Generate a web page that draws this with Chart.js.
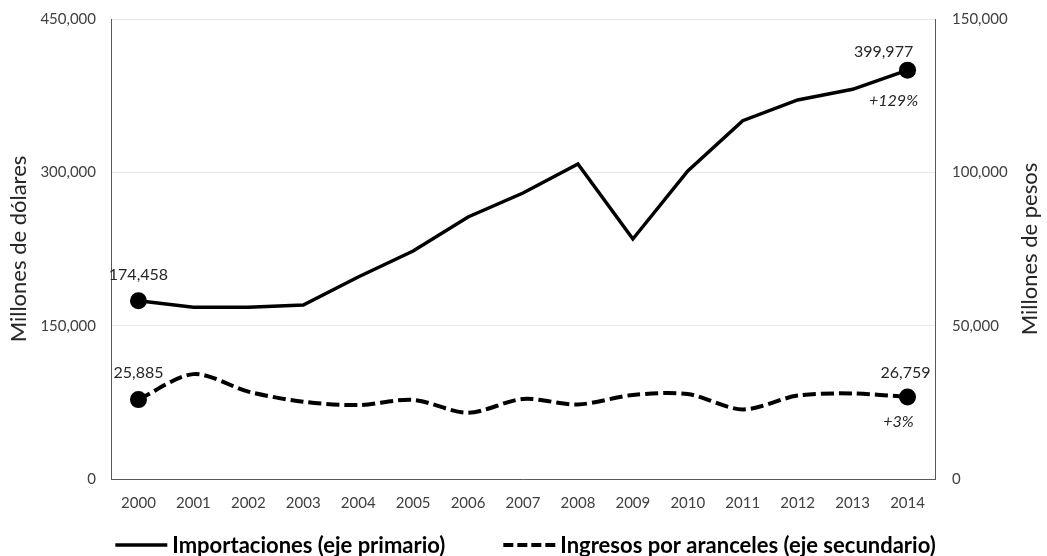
<!DOCTYPE html>
<html>
<head>
<meta charset="utf-8">
<script src="https://cdn.jsdelivr.net/npm/chart.js@4.4.1/dist/chart.umd.min.js"></script>
<style>
  html, body { margin: 0; padding: 0; background: #fff; }
  #wrap { width: 1047px; height: 556px; }
</style>
</head>
<body>
<div id="wrap"><canvas id="chart" width="1047" height="556"></canvas></div>
<script>
const years = ['2000', '2001', '2002', '2003', '2004', '2005', '2006', '2007',
               '2008', '2009', '2010', '2011', '2012', '2013', '2014'];
const importaciones = [174458, 168000, 168000, 170200, 197600, 223000, 256300, 279800,
                       308200, 234800, 301300, 350500, 370800, 381200, 399977];
const aranceles = [25885, 34200, 28500, 25200, 24100, 25800, 21600, 26100,
                   24300, 27400, 27700, 22700, 27200, 27900, 26759];
const seriesNames = ['Importaciones (eje primario)', 'Ingresos por aranceles (eje secundario)'];
const axisTitles = ['Millones de dólares', 'Millones de pesos'];
const leftMax = 450000;
const rightMax = 150000;

const FONT = "Lato, 'Open Sans', sans-serif";
Chart.defaults.font.family = FONT;
Chart.defaults.color = '#404040';

const fmt = v => Number(v).toLocaleString('en-US');

function endRadius(ctx) {
    const last = ctx.dataset.data.length - 1;
    return (ctx.dataIndex === 0 || ctx.dataIndex === last) ? 8.5 : 0;
}

// y axes: fixed width, and don't let tick padding push the plot down
function fixAxis(width) {
    return s => {
        s.width = width;
        s.paddingTop = 0;
        s.paddingBottom = 0;
    };
}

// start / end value labels and % change
const endLabels = {
    id: 'endLabels',
    afterDatasetsDraw(chart) {
        const ctx = chart.ctx;
        // offsets: [firstDy, lastDx, lastDy, changeDx, changeDy]
        const offs = [[-26, -24, -18, -14, 31], [-27, -2, -24, -9, 25]];
        chart.data.datasets.forEach((ds, i) => {
            const pts = chart.getDatasetMeta(i).data;
            const first = pts[0], last = pts[pts.length - 1];
            const v0 = ds.data[0], v1 = ds.data[ds.data.length - 1];
            const o = offs[i];
            ctx.save();
            ctx.fillStyle = '#262626';
            ctx.textAlign = 'center';
            ctx.textBaseline = 'middle';
            ctx.font = '16px ' + FONT;
            ctx.fillText(fmt(v0), first.x, first.y + o[0]);
            ctx.fillText(fmt(v1), last.x + o[1], last.y + o[2]);
            ctx.font = 'italic 16px ' + FONT;
            const pct = Math.round((v1 / v0 - 1) * 100);
            ctx.fillText('+' + pct + '%', last.x + o[3], last.y + o[4]);
            ctx.restore();
        });
    }
};

// rotated axis titles (both read bottom to top) and bottom legend
const extras = {
    id: 'extras',
    afterDraw(chart) {
        const ctx = chart.ctx;
        const area = chart.chartArea;
        const midY = (area.top + area.bottom) / 2;
        ctx.save();
        ctx.fillStyle = '#262626';
        ctx.font = '22px ' + FONT;
        ctx.textAlign = 'center';
        ctx.textBaseline = 'middle';
        [[19, axisTitles[0]], [chart.width - 17, axisTitles[1]]].forEach(([x, t]) => {
            ctx.save();
            ctx.translate(x, midY);
            ctx.rotate(-Math.PI / 2);
            ctx.fillText(t, 0, 0);
            ctx.restore();
        });

        // legend
        ctx.font = 'bold 22px ' + FONT;
        const sample = 52, gap = 5, between = 58;
        const items = chart.data.datasets.map(ds => ({
            ds, w: sample + gap + ctx.measureText(ds.label).width
        }));
        const total = items.reduce((a, it) => a + it.w, 0) + between * (items.length - 1);
        let x = (chart.width - total) / 2 + 2;
        const y = area.bottom + 66;
        ctx.textAlign = 'left';
        ctx.fillStyle = '#000';
        items.forEach(it => {
            ctx.save();
            ctx.strokeStyle = it.ds.borderColor;
            ctx.lineWidth = it.ds.borderWidth;
            ctx.setLineDash(it.ds.borderDash ? [10, 4] : []);
            ctx.beginPath();
            ctx.moveTo(x, y);
            ctx.lineTo(x + sample, y);
            ctx.stroke();
            ctx.restore();
            ctx.fillText(it.ds.label, x + sample + gap, y + 1);
            x += it.w + between;
        });
        ctx.restore();
    }
};

new Chart(document.getElementById('chart'), {
    type: 'line',
    data: {
        labels: years,
        datasets: [{
            label: seriesNames[0],
            data: importaciones,
            yAxisID: 'y',
            borderColor: '#000',
            backgroundColor: '#000',
            borderWidth: 3.5,
            tension: 0,
            pointRadius: endRadius,
            pointHoverRadius: endRadius,
            pointBorderWidth: 0
        }, {
            label: seriesNames[1],
            data: aranceles,
            yAxisID: 'y1',
            borderColor: '#000',
            backgroundColor: '#000',
            borderWidth: 4,
            borderDash: [13, 5],
            tension: 0.3,
            pointRadius: endRadius,
            pointHoverRadius: endRadius,
            pointBorderWidth: 0
        }]
    },
    options: {
        responsive: false,
        animation: false,
        layout: { autoPadding: false, padding: { top: 19, bottom: 37, left: 0, right: 0 } },
        plugins: {
            legend: { display: false },
            tooltip: { enabled: false }
        },
        scales: {
            x: {
                offset: true,
                grid: { drawOnChartArea: false, drawTicks: false },
                border: { display: true, color: '#595959', width: 1 },
                ticks: { font: { size: 15 }, padding: 15, color: '#404040', maxRotation: 0 },
                afterFit: s => { s.height = 40; }
            },
            y: {
                position: 'left',
                min: 0,
                max: leftMax,
                grid: { color: '#e9e9e9', drawTicks: false },
                border: { display: true, color: '#595959', width: 1 },
                ticks: { stepSize: 150000, font: { size: 15 }, padding: 15, callback: v => fmt(v) },
                afterFit: fixAxis(111)
            },
            y1: {
                position: 'right',
                min: 0,
                max: rightMax,
                grid: { drawOnChartArea: false, drawTicks: false },
                border: { display: true, color: '#595959', width: 1 },
                ticks: { stepSize: 50000, font: { size: 15 }, padding: 17, callback: v => fmt(v) },
                afterFit: fixAxis(112)
            }
        }
    },
    plugins: [endLabels, extras]
});
</script>
</body>
</html>
